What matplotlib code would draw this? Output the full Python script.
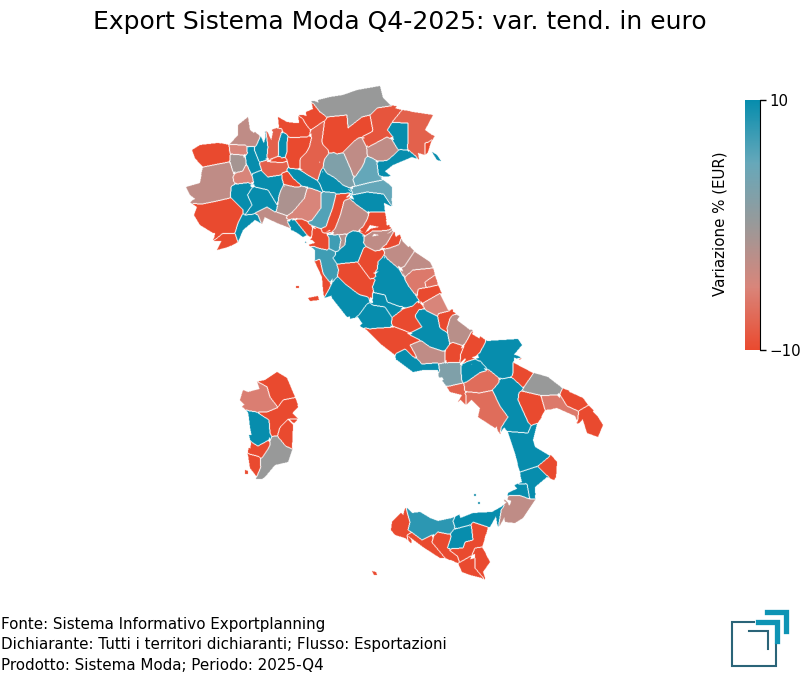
# -*- coding: utf-8 -*-
"""Export Sistema Moda Q4-2025: mappa province, contorni letti a occhio dal riferimento."""
import numpy as np
import matplotlib
matplotlib.use("Agg")
import matplotlib.pyplot as plt
from matplotlib.colors import LinearSegmentedColormap, Normalize
from matplotlib.cm import ScalarMappable
from matplotlib.path import Path

# contorni province (unita' mappa)
AO = [(192,150),(200,145),(218,143),(229,145),(230,155),(229,162),(213,165),(203,167),(195,158)]
TO = [(203,167),(213,165),(229,162),(233,172),(233,182),(235,183),(230,187),(230,198),(217,201),(202,204),(190,195),(186,187),(200,183)]
CN = [(202,204),(217,201),(230,198),(238,205),(243,210),(238,223),(235,233),(223,233),(213,233),(200,225),(194,215),(197,207)]
IM = [(223,234),(235,234),(238,242),(228,247),(217,250),(222,240)]
SV = [(243,215),(257,215),(255,220),(243,230),(238,242),(235,233),(238,223)]
BI = [(229,145),(245,145),(247,153),(243,155),(230,153)]
VC = [(230,155),(243,155),(245,163),(243,172),(238,171),(233,172),(231,162)]
VB = [(230,144),(238,135),(238,125),(248,117),(250,130),(259,137),(256,145),(245,145)]
NO = [(248,148),(253,148),(257,158),(260,169),(252,175),(247,165)]
VA = [(261,137),(266,148),(267,158),(260,162),(255,150)]
AT = [(243,170),(247,165),(252,177),(253,182),(235,183),(233,177)]
AL = [(231,197),(232,186),(248,183),(252,188),(247,195),(252,205),(245,215),(243,210),(238,205)]
GE_N = [(248,195),(252,188),(255,187),(268,190),(277,205),(275,212),(267,207),(255,213),(245,215),(252,205)]
PV = [(252,173),(260,172),(268,177),(282,175),(282,180),(278,190),(277,205),(268,190),(255,187)]
GE = [(255,213),(267,207),(275,212),(285,215),(290,228),(277,223),(260,215)]
SP = [(287,222),(295,220),(307,235),(303,237),(293,230)]
MS = [(295,220),(302,220),(312,228),(311,237),(307,235)]
LU = [(313,228),(322,232),(330,238),(327,250),(320,247),(312,240)]
SO = [(278,117),(287,122),(295,123),(302,123),(309,130),(307,137),(290,137),(283,130),(279,127)]
SO_E = [(306,112),(313,109),(322,113),(327,118),(310,128),(307,122)]
CO = [(273,132),(282,128),(280,135),(278,142),(278,155),(270,158),(267,157),(270,147)]
LC = [(282,133),(287,135),(287,152),(282,158),(279,155),(279,143)]
BG = [(288,138),(312,137),(307,152),(300,158),(300,168),(290,168),(287,160),(287,145)]
BS = [(323,123),(322,143),(327,150),(320,160),(317,179),(300,168),(300,160),(310,147),(312,132)]
MB = [(272,160),(280,157),(287,160),(283,163),(270,162)]
MI = [(260,162),(270,162),(287,162),(288,168),(280,175),(268,177),(262,168)]
LO = [(282,173),(288,173),(300,186),(295,187),(287,183),(282,179)]
CR = [(287,168),(297,170),(308,177),(320,183),(322,192),(312,187),(303,185),(293,178)]
MN = [(323,172),(335,177),(345,187),(352,193),(337,193),(323,190),(318,182)]
VR = [(334,152),(343,155),(350,170),(355,186),(343,185),(327,173),(328,160)]
TN = [(327,117),(347,115),(348,128),(362,117),(370,115),(373,132),(357,137),(343,150),(337,155),(323,145),(322,140)]
BZ = [(318,100),(330,97),(343,95),(357,90),(380,86),(383,98),(390,105),(377,108),(370,115),(362,117),(348,128),(347,115),(327,117),(320,112)]
BL = [(377,108),(390,107),(402,110),(393,120),(387,130),(393,137),(387,137),(368,147),(364,137),(373,130),(370,115)]
PN = [(392,123),(408,123),(408,138),(407,150),(398,149),(393,137),(388,130)]
UD = [(402,110),(413,112),(433,115),(425,130),(432,135),(428,142),(425,143),(425,155),(415,152),(408,148),(408,123),(393,122)]
GO = [(425,143),(431,142),(428,152),(425,155)]
TS = [(432,152),(437,155),(441,161),(437,160)]
VI = [(355,142),(360,139),(367,150),(365,163),(355,177),(352,170),(345,152)]
TV = [(367,148),(387,137),(398,150),(387,162),(372,158),(367,153)]
VE = [(377,163),(390,158),(400,150),(407,150),(412,157),(393,165),(380,175)]
PD = [(372,158),(377,163),(377,175),(383,180),(370,182),(355,186),(353,180),(362,167),(365,158)]
RO = [(353,187),(370,183),(383,180),(392,187),(392,198),(383,193),(367,192),(353,195)]
FE = [(352,195),(367,192),(383,195),(385,212),(370,212),(357,205)]
PC = [(286,187),(295,187),(307,188),(304,198),(292,212),(285,215),(277,212),(280,197)]
PR = [(307,189),(320,192),(320,208),(312,220),(295,217),(287,218),(295,210),(305,198)]
RE = [(322,193),(335,193),(332,210),(327,228),(310,223),(322,208)]
MO = [(337,195),(350,193),(343,200),(340,215),(335,228),(322,233),(328,218),(333,208)]
BO = [(348,202),(357,205),(368,215),(363,227),(357,230),(347,233),(333,235),(340,217),(345,202)]
RA = [(370,212),(385,212),(387,227),(380,227),(370,225),(365,233),(360,230),(368,220)]
FC = [(365,238),(390,233),(387,245),(375,252),(363,243)]
RN = [(381,248),(395,235),(400,245),(390,248)]
PU = [(385,250),(403,242),(413,252),(405,267),(402,267),(388,258)]
AN = [(415,252),(430,262),(433,268),(413,270),(405,277),(402,268)]
MC = [(413,270),(433,268),(435,275),(425,282),(425,287),(418,288),(417,295),(408,282),(405,277)]
FM = [(425,282),(435,275),(438,285),(427,287)]
AP = [(418,290),(427,288),(438,285),(441,292),(423,303),(418,298)]
TE = [(423,303),(440,294),(448,310),(437,315),(427,310)]
PE = [(438,313),(453,312),(448,318),(447,332),(440,328)]
CH = [(453,317),(470,330),(467,338),(462,345),(450,342),(447,328)]
AQ = [(418,308),(423,310),(437,317),(440,328),(447,333),(449,343),(443,351),(430,347),(410,335),(422,327),(415,318)]
IS = [(453,342),(462,346),(458,355),(460,362),(447,363),(445,353)]
CB = [(472,334),(485,342),(480,353),(465,358),(460,363),(467,343)]
FG = [(487,341),(518,339),(522,345),(512,357),(513,375),(503,378),(480,360),(478,355)]
CE = [(410,345),(422,340),(430,347),(445,352),(443,362),(430,363),(422,363),(415,352)]
LT = [(405,350),(412,357),(422,365),(437,363),(438,370),(423,370),(413,372),(397,360),(395,353)]
FR = [(390,328),(403,332),(410,335),(422,340),(410,345),(415,357),(405,348),(395,355),(382,345),(367,330)]
RI = [(417,302),(423,308),(415,315),(422,327),(410,331),(392,323),(392,318)]
RM = [(358,317),(368,307),(372,308),(385,307),(392,318),(390,327),(380,327),(370,328),(362,323)]
TR = [(372,293),(385,295),(387,302),(400,307),(405,305),(392,317),(385,307),(375,303)]
PG = [(385,258),(403,278),(407,287),(418,300),(413,307),(402,307),(388,302),(385,295),(375,292),(372,287),(373,277),(380,270),(379,262)]
VT = [(338,280),(358,298),(367,298),(358,315),(347,317),(332,298),(330,288)]
SI = [(338,265),(357,262),(370,278),(380,277),(373,287),(372,298),(358,290),(347,283),(340,275)]
AR = [(358,262),(363,247),(383,252),(378,260),(373,273),(380,277),(370,280)]
FI = [(333,258),(345,245),(345,237),(353,230),(363,237),(365,247),(358,262),(338,263)]
PT = [(328,235),(338,235),(342,240),(338,250),(330,248)]
PO = [(340,235),(347,235),(345,245),(340,248)]
PI = [(315,250),(330,250),(335,255),(333,258),(338,270),(330,282),(323,272),(320,260),(315,260)]
LI = [(315,262),(320,258),(323,275),(330,283),(329,288),(323,290),(322,277)]
ELBA = [(308,298),(318,296),(319,300),(310,301)]
CAPRAIA = [(296,286),(299,286),(299,288),(296,288)]
NA = [(440,365),(450,362),(460,363),(460,380),(463,383),(448,386),(442,377)]
BN = [(462,367),(480,362),(485,370),(480,373),(467,382),(463,382)]
AV = [(465,383),(480,372),(488,372),(500,382),(492,390),(480,393),(465,390)]
NA_S = [(447,387),(463,383),(465,395),(458,402),(462,395),(450,392)]
SA = [(465,393),(478,393),(492,391),(500,407),(508,417),(495,428),(478,417),(480,408)]
PZ = [(493,390),(500,380),(513,378),(523,388),(518,393),(518,400),(528,422),(528,433),(508,431),(505,427),(508,417),(500,405)]
BT = [(514,363),(533,373),(523,387),(512,378)]
BA = [(534,373),(548,377),(562,388),(557,395),(542,395),(523,390)]
MT = [(520,392),(540,396),(545,410),(537,423),(528,422),(518,400)]
TA = [(542,396),(557,395),(567,407),(578,412),(575,416),(557,408),(545,410)]
BR = [(563,389),(583,398),(588,405),(578,410),(567,405),(562,393)]
LE = [(579,412),(588,406),(598,417),(603,425),(598,437),(587,433),(583,420)]
CS = [(508,432),(528,433),(537,424),(533,440),(535,447),(550,456),(538,465),(520,472),(515,453)]
KR = [(551,455),(557,462),(556,478),(548,475),(538,467)]
CZ = [(520,472),(538,467),(547,477),(535,487),(535,498),(530,498),(527,483),(522,482)]
VV = [(510,492),(527,484),(529,498),(520,495)]
RC = [(512,498),(520,496),(530,500),(535,500),(523,518),(515,523),(505,522),(503,510),(510,505)]
TP = [(401,513),(410,522),(408,530),(412,532),(407,535),(405,538),(395,535),(391,530),(392,522)]
PA = [(412,513),(420,512),(430,518),(438,521),(452,518),(455,527),(448,532),(438,532),(422,540),(408,530)]
ME = [(453,521),(473,513),(492,512),(501,507),(490,527),(488,527),(473,522),(455,528)]
EN = [(455,530),(470,527),(473,540),(465,542),(463,548),(448,548),(452,537)]
CT = [(473,522),(488,527),(482,547),(475,548),(460,562),(448,550),(463,548),(465,542),(473,540)]
CL = [(432,542),(438,532),(450,537),(447,548),(460,555),(459,563),(445,558),(433,543)]
AG = [(407,535),(412,532),(422,540),(432,535),(432,543),(445,558),(440,558),(423,547)]
RG = [(458,563),(475,558),(475,568),(482,578),(470,575),(462,572)]
SR = [(475,548),(482,547),(490,562),(483,572),(485,578),(475,568),(475,558)]
PANT = [(372,571),(376,572),(377,575),(374,575)]
EOLIE1 = [(474,494),(476,494),(476,496),(474,496)]
EOLIE2 = [(478,502),(480,502),(480,504),(478,504)]
SS = [(243,390),(248,392),(267,387),(270,397),(278,408),(267,412),(258,412),(250,410),(240,400)]
OT = [(267,386),(265,380),(277,372),(287,378),(295,397),(283,400),(278,407),(270,397)]
NU = [(258,412),(267,412),(278,407),(283,400),(295,398),(298,407),(288,418),(280,427),(275,435),(270,433),(270,420)]
OR = [(248,412),(255,412),(268,420),(270,433),(268,440),(258,445),(253,442),(250,427),(249,418)]
OG = [(280,428),(288,420),(293,425),(292,448),(285,447),(280,438)]
VS = [(251,443),(258,447),(268,441),(270,445),(262,457),(250,453)]
CI = [(248,455),(258,457),(263,467),(257,477),(250,468)]
CA = [(275,437),(280,440),(292,450),(288,462),(275,465),(265,477),(262,479),(256,479),(260,462),(268,450),(270,445)]
SPIETRO = [(245,470),(248,471),(248,474),(245,474)]

provinces = [AO, TO, CN, IM, SV, BI, VC, VB, NO, VA, AT, AL, GE_N, PV, GE, SP, MS, LU,
             SO, SO_E, CO, LC, BG, BS, MB, MI, LO, CR, MN, VR, TN, BZ, BL, PN, UD, GO, TS,
             VI, TV, VE, PD, RO, FE, PC, PR, RE, MO, BO, RA, FC, RN, PU, AN, MC, FM, AP,
             TE, PE, CH, AQ, IS, CB, FG, CE, LT, FR, RI, RM, TR, PG, VT, SI, AR, FI, PT,
             PO, PI, LI, ELBA, CAPRAIA, NA, BN, AV, NA_S, SA, PZ, BT, BA, MT, TA, BR, LE,
             CS, KR, CZ, VV, RC, TP, PA, ME, EN, CT, CL, AG, RG, SR, PANT, EOLIE1, EOLIE2,
             SS, OT, NU, OR, OG, VS, CI, CA, SPIETRO]
values = [-10, -3, -10, -10, 10, -5, -1, -3, 10, 10, -5, 10, 10, 10, -3, 10, -10, -10,
          -10, -10, -8, 10, -10, -8, -10, -8, -10, 10, 10, 2.5, -10, 0, -9, 10, -8, -10, 10,
          -3, -3, 10, 5, 5, 10, -1.5, -5, 6, -10, -3, -10, -3, -10, -3, -3, -6, -7, -10,
          -5, -10, -2.5, 10, -10, -10, 10, -3, 10, -10, -10, 10, 10, 10, 10, -10, -10, 10, 7,
          -2, 7, -10, -10, -10, 2.5, 10, -7, -8, -7, 10, -10, 0, -10, -6, -10, -10,
          10, -10, 10, 10, -3, -10, 8, 10, 10, -10, -10, -10, -10, -10, -10, 8, 8,
          -5.5, -10, -10, 10, -10, -10, -10, 0, -10]

cbar_ticks = [-10, 10]
title = "Export Sistema Moda Q4-2025: var. tend. in euro"
footer = ["Fonte: Sistema Informativo Exportplanning",
          "Dichiarante: Tutti i territori dichiaranti; Flusso: Esportazioni",
          "Prodotto: Sistema Moda; Periodo: 2025-Q4"]

SS_F = 2     # sottopixel per unita' mappa
GAP = 8.0    # buchi fra province vicine sotto questa distanza vengono chiusi
ISLET = 12   # isolette: niente riempimento attorno


def raster_province(polys, vals):
    # i contorni sono a mano e non combaciano: ogni cella di un buco va alla provincia piu' vicina
    h, w = 680 * SS_F, 800 * SS_F
    xs = (np.arange(w) + 0.5) / SS_F
    ys = (np.arange(h) + 0.5) / SS_F
    best = np.full((h, w), np.inf)
    second = np.full((h, w), np.inf)
    label = np.full((h, w), -1)
    ux1, uy1 = np.zeros((h, w)), np.zeros((h, w))   # direzione verso la piu' vicina
    ux2, uy2 = np.zeros((h, w)), np.zeros((h, w))   # e verso la seconda
    for i, poly in enumerate(polys):
        pts = np.asarray(poly, dtype=float)
        x0, y0 = pts.min(axis=0) - GAP
        x1, y1 = pts.max(axis=0) + GAP
        ix = np.where((xs >= x0) & (xs <= x1))[0]
        iy = np.where((ys >= y0) & (ys <= y1))[0]
        X, Y = np.meshgrid(xs[ix], ys[iy])
        d = np.full(X.shape, np.inf)
        nx, ny = np.zeros(X.shape), np.zeros(X.shape)
        for a, b in zip(pts, np.roll(pts, -1, axis=0)):
            ab = b - a
            t = np.clip(((X - a[0]) * ab[0] + (Y - a[1]) * ab[1]) / (ab @ ab), 0, 1)
            px, py = a[0] + t * ab[0], a[1] + t * ab[1]
            ds = np.hypot(X - px, Y - py)
            closer = ds < d
            d = np.where(closer, ds, d)
            nx = np.where(closer, px - X, nx)
            ny = np.where(closer, py - Y, ny)
        inside = Path(pts).contains_points(np.c_[X.ravel(), Y.ravel()]).reshape(X.shape)
        sd = np.where(inside, -d, d)
        if max(x1 - x0, y1 - y0) - 2 * GAP < ISLET:
            sd = np.where(inside, -d, np.inf)
        nrm = np.maximum(d, 1e-6)
        vx, vy = nx / nrm, ny / nrm
        sl = np.ix_(iy, ix)
        win = sd < best[sl]
        runner = ~win & (sd < second[sl])
        second[sl] = np.where(win, best[sl], np.where(runner, sd, second[sl]))
        ux2[sl] = np.where(win, ux1[sl], np.where(runner, vx, ux2[sl]))
        uy2[sl] = np.where(win, uy1[sl], np.where(runner, vy, uy2[sl]))
        ux1[sl] = np.where(win, vx, ux1[sl])
        uy1[sl] = np.where(win, vy, uy1[sl])
        label[sl] = np.where(win, i, label[sl])
        best[sl] = np.where(win, sd, best[sl])
    between = (ux1 * ux2 + uy1 * uy2) < 0.05
    land = (best <= 0) | ((best < GAP) & (second < GAP) & between)
    label[~land] = -1
    img = np.full((h, w), np.nan)
    img[land] = np.asarray(vals, dtype=float)[label[land]]
    # confini bianchi fra province diverse
    diff_x = (label[:, 1:] != label[:, :-1]) & (label[:, 1:] >= 0) & (label[:, :-1] >= 0)
    diff_y = (label[1:, :] != label[:-1, :]) & (label[1:, :] >= 0) & (label[:-1, :] >= 0)
    img[:, 1:][diff_x] = np.nan
    img[:, :-1][diff_x] = np.nan
    img[1:, :][diff_y] = np.nan
    img[:-1, :][diff_y] = np.nan
    return img


cmap = LinearSegmentedColormap.from_list(
    "moda", ["#EA4A2F", "#D9857A", "#999999", "#66A8BA", "#078DAD"])
cmap.set_bad("white")
norm = Normalize(-10, 10)

fig = plt.figure(figsize=(8, 6.8), dpi=100)
ax = fig.add_axes([0, 0, 1, 1])

ax.imshow(raster_province(provinces, values), cmap=cmap, norm=norm, extent=(0, 800, 680, 0),
          interpolation="antialiased", interpolation_stage="rgba", aspect="auto")
ax.set_xlim(0, 800)
ax.set_ylim(680, 0)
ax.axis("off")

fig.text(0.5, 1 - 22 / 680, title, ha="center", va="center", fontsize=18)
for i, line in enumerate(footer):
    fig.text(1 / 800, 1 - (625 + 20 * i) / 680, line, ha="left", va="center", fontsize=10.9)

# colorbar
cax = fig.add_axes([745 / 800, 1 - 350 / 680, 15 / 800, 250 / 680])
cb = fig.colorbar(ScalarMappable(norm=norm, cmap=cmap), cax=cax, ticks=cbar_ticks)
cb.outline.set_visible(False)
cb.ax.tick_params(labelsize=10.8, length=4, width=1, pad=3)
cb.ax.spines["right"].set_visible(True)
cb.ax.spines["right"].set_linewidth(0.8)
fig.text(720 / 800, 1 - 224 / 680, "Variazione % (EUR)", rotation=90,
         ha="center", va="center", fontsize=10.8)

# logo
dark, teal = "#2A6478", "#0E94B4"
ax.plot([754, 732, 732, 776, 776], [622, 622, 666, 666, 644], color=dark, lw=1.5,
        solid_joinstyle="miter")
ax.plot([749, 768, 768], [631, 631, 649], color=dark, lw=1.5, solid_joinstyle="miter")
ax.plot([758, 777, 777], [622, 622, 641], color=teal, lw=3.8, solid_joinstyle="miter")
ax.plot([767, 786, 786], [612, 612, 631], color=teal, lw=3.8, solid_joinstyle="miter")

fig.savefig("out.png", dpi=100)
